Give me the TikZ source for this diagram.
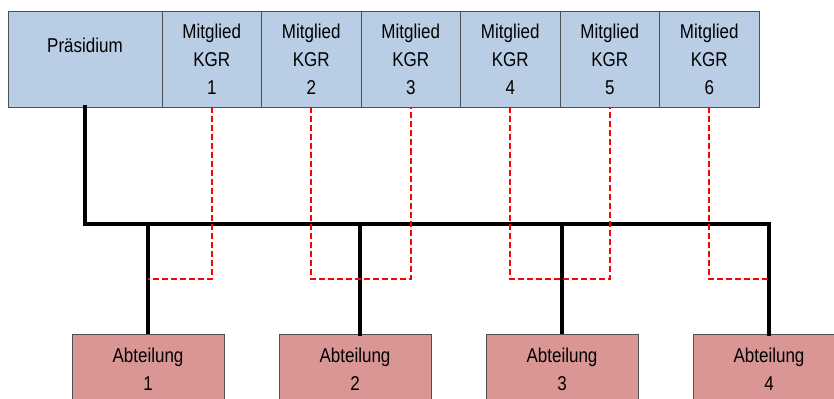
\documentclass[tikz,border=0pt]{standalone}
\usepackage{fontspec}
\setmainfont{Liberation Sans}[FakeStretch=0.85]
\usepackage{xcolor}
\usepackage{tikz}
\usetikzlibrary{positioning}
\definecolor{kgrblue}{RGB}{185,205,229}
\definecolor{abtred}{RGB}{217,150,148}
\definecolor{framegray}{RGB}{75,80,88}
\definecolor{kgrdash}{RGB}{255,0,0}

\begin{document}
\begin{tikzpicture}[
    x=0.75pt, y=-0.75pt,
    font=\fontsize{15}{21}\selectfont,
    node distance=0pt and 0pt,
    box/.style={draw=framegray, line width=0.6pt, align=center, outer sep=0pt, inner sep=0pt},
    top/.style={box, fill=kgrblue, minimum height=72pt},
    member/.style={top, minimum width=74.625pt},
    dept/.style={box, fill=abtred, minimum width=114pt, minimum height=52.5pt},
    bus/.style={line width=3.4pt, line cap=rect},
    drop/.style={line width=2.4pt},
    kgrlink/.style={draw=kgrdash, line width=1.8pt, dash pattern=on 4.5pt off 2.25pt}
  ]
    \useasboundingbox (0,0) rectangle (834,399);
    \node[top, minimum width=115.5pt] (pres) at (85,59) {Präsidium\\\mbox{}};
    \node[member, right=of pres] (m1) {Mitglied\\KGR\\1};
    \node[member, right=of m1] (m2) {Mitglied\\KGR\\2};
    \node[member, right=of m2] (m3) {Mitglied\\KGR\\3};
    \node[member, right=of m3] (m4) {Mitglied\\KGR\\4};
    \node[member, right=of m4] (m5) {Mitglied\\KGR\\5};
    \node[member, right=of m5] (m6) {Mitglied\\KGR\\6};

    \node[dept] (a1) at (148,369) {Abteilung\\1};
    \node[dept, right=41.25pt of a1] (a2) {Abteilung\\2};
    \node[dept, right=41.25pt of a2] (a3) {Abteilung\\3};
    \node[dept, right=41.25pt of a3] (a4) {Abteilung\\4};

    \coordinate (busline) at (0,224);
    \coordinate (kgrline) at (0,279);

    \draw[bus] (pres.south) |- (a4.north |- busline) -- (a4.north);
    \draw[drop] (a1.north) -- (a1.north |- busline);
    \draw[bus] ([xshift=3.75pt]a2.north) -- ([xshift=3.75pt]a2.north |- busline);
    \draw[drop] (a3.north) -- (a3.north |- busline);

    \draw[kgrlink] (m1.south) |- (a1.north |- kgrline);
    \draw[kgrlink] (m2.south) |- (m3.south |- kgrline) -- (m3.south);
    \draw[kgrlink] (m4.south) |- (m5.south |- kgrline) -- (m5.south);
    \draw[kgrlink] (m6.south) |- (a4.north |- kgrline);
  \end{tikzpicture}
\end{document}
